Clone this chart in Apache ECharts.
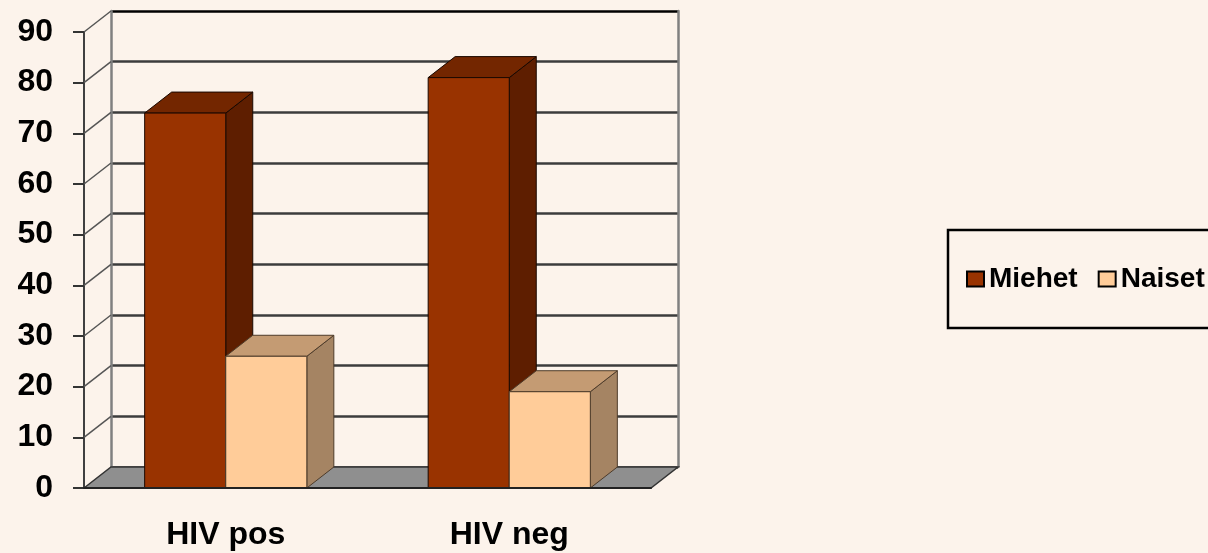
<!DOCTYPE html>
<html>
<head>
<meta charset="utf-8">
<script src="https://cdn.jsdelivr.net/npm/echarts@6/dist/echarts.min.js"></script>
<style>
  html, body { margin: 0; padding: 0; background: #fcf3eb; }
  #chart { width: 1208px; height: 553px; }
</style>
</head>
<body>
<div id="chart"></div>
<script>
const categories = ["HIV pos", "HIV neg"];
const miehet = [74, 81];
const naiset = [26, 19];
const yTicks = [0, 10, 20, 30, 40, 50, 60, 70, 80, 90];

// depth of the fake 3D box, in pixels
const DX = 27;
const DY = -21;
const BAR_RATIO = 0.286;
const FONT = "'Liberation Sans', Arial, sans-serif";

const faces = {
  Miehet: { front: "#993300", top: "#732600", side: "#5e1e00", stroke: "#1a0800" },
  Naiset: { front: "#ffcc99", top: "#c49b73", side: "#a58463", stroke: "#4d3b2a" },
};

function barRender(name, offset) {
  const f = faces[name];
  return function (params, api) {
    const i = api.value(0);
    const v = api.value(1);
    const base = api.coord([i, 0]);
    const top = api.coord([i, v]);
    const w = api.size([1, 0])[0] * BAR_RATIO;
    const x0 = base[0] + offset * w;
    const x1 = x0 + w;
    const y0 = base[1];
    const y1 = top[1];
    const line = { stroke: f.stroke, lineWidth: 1 };
    return {
      type: "group",
      children: [
        {
          type: "polygon",
          shape: { points: [[x1, y0], [x1 + DX, y0 + DY], [x1 + DX, y1 + DY], [x1, y1]] },
          style: Object.assign({ fill: f.side }, line),
        },
        {
          type: "polygon",
          shape: { points: [[x0, y1], [x0 + DX, y1 + DY], [x1 + DX, y1 + DY], [x1, y1]] },
          style: Object.assign({ fill: f.top }, line),
        },
        {
          type: "rect",
          shape: { x: x0, y: y1, width: w, height: y0 - y1 },
          style: Object.assign({ fill: f.front }, line),
        },
      ],
    };
  };
}

const gridColors = yTicks.map((t) => (t === 90 ? "#000" : "#3c3c3c"));

const chart = echarts.init(document.getElementById("chart"));
chart.setOption({
  backgroundColor: "#fcf3eb",
  animation: false,
  grid: [
    { left: 111, right: 530, top: 11, bottom: 86 },
    { left: 84, right: 557, top: 32, bottom: 65 },
  ],
  legend: {
    left: 948,
    top: 230,
    width: 400,
    orient: "horizontal",
    padding: [35, 40, 35, 18],
    borderColor: "#000",
    borderWidth: 2.5,
    itemWidth: 17,
    itemHeight: 15,
    itemGap: 20,
    icon: "rect",
    data: ["Miehet", "Naiset"],
    textStyle: { fontFamily: FONT, fontWeight: "bold", fontSize: 28, color: "#000" },
  },
  xAxis: [
    { gridIndex: 0, type: "category", data: categories, show: false },
    {
      gridIndex: 1,
      type: "category",
      data: categories,
      z: 10,
      axisLine: { lineStyle: { color: "#222", width: 2 } },
      axisTick: { length: 9, lineStyle: { color: "#222", width: 2 } },
      axisLabel: { margin: 31, fontFamily: FONT, fontWeight: "bold", fontSize: 32, color: "#000" },
    },
  ],
  yAxis: [
    {
      gridIndex: 0,
      type: "value",
      min: 0,
      max: 90,
      interval: 10,
      axisLine: { show: true, lineStyle: { color: "#808080", width: 2.5 } },
      axisTick: { show: false },
      axisLabel: { show: false },
      splitLine: { lineStyle: { color: gridColors, width: 2.5 } },
    },
    {
      gridIndex: 0,
      type: "value",
      position: "right",
      min: 0,
      max: 90,
      interval: 10,
      axisLine: { show: true, lineStyle: { color: "#808080", width: 2.5 } },
      axisTick: { show: false },
      axisLabel: { show: false },
      splitLine: { show: false },
    },
    {
      gridIndex: 1,
      type: "value",
      min: 0,
      max: 90,
      interval: 10,
      axisLine: { show: true, lineStyle: { color: "#404040", width: 2 } },
      axisTick: { show: true, length: 11, lineStyle: { color: "#333", width: 2 } },
      axisLabel: { margin: 31, fontFamily: FONT, fontWeight: "bold", fontSize: 32, color: "#000" },
      splitLine: { show: false },
    },
  ],
  series: [
    {
      name: "wall",
      type: "custom",
      xAxisIndex: 1,
      yAxisIndex: 2,
      silent: true,
      data: yTicks.slice(1).map((t) => [0, t]),
      renderItem: function (params, api) {
        const x = params.coordSys.x;
        const y = api.coord([0, api.value(1)])[1];
        return {
          type: "line",
          shape: { x1: x, y1: y, x2: x + DX, y2: y + DY },
          style: { stroke: "#555", lineWidth: 1.5 },
        };
      },
    },
    {
      name: "floor",
      type: "custom",
      xAxisIndex: 1,
      yAxisIndex: 2,
      silent: true,
      data: [[0, 0]],
      renderItem: function (params, api) {
        const cs = params.coordSys;
        const y = api.coord([0, 0])[1];
        const xa = cs.x;
        const xb = cs.x + cs.width;
        return {
          type: "polygon",
          shape: { points: [[xa, y], [xa + DX, y + DY], [xb + DX, y + DY], [xb, y]] },
          style: { fill: "#8f8f8f", stroke: "#333", lineWidth: 1.5 },
        };
      },
    },
    {
      name: "Miehet",
      type: "custom",
      xAxisIndex: 1,
      yAxisIndex: 2,
      itemStyle: { color: faces.Miehet.front, borderColor: "#000", borderWidth: 1 },
      data: miehet.map((v, i) => [i, v]),
      renderItem: barRender("Miehet", -1),
    },
    {
      name: "Naiset",
      type: "custom",
      xAxisIndex: 1,
      yAxisIndex: 2,
      itemStyle: { color: faces.Naiset.front, borderColor: "#000", borderWidth: 1 },
      data: naiset.map((v, i) => [i, v]),
      renderItem: barRender("Naiset", 0),
    },
  ],
});
</script>
</body>
</html>
